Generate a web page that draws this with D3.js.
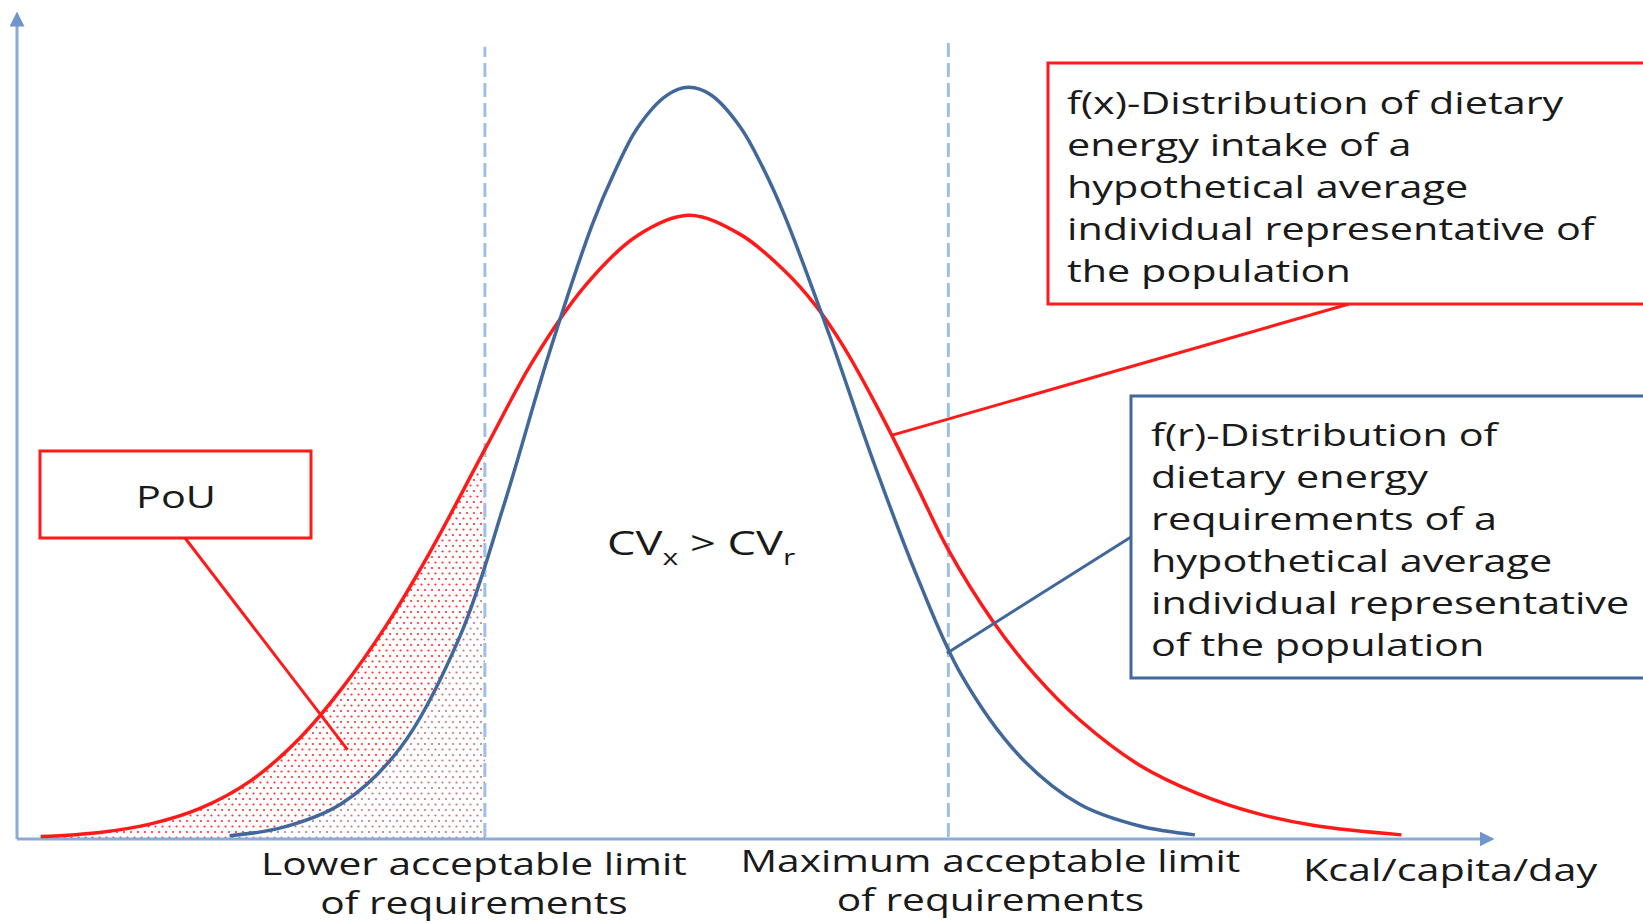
<!DOCTYPE html>
<html>
<head>
<meta charset="utf-8">
<script src="https://cdn.jsdelivr.net/npm/d3@7"></script>
<style>
  body { margin: 0; background: #fff; }
  svg text { font-family: 'Open Sans', 'Noto Sans', sans-serif; fill: #1a1a1a; }
</style>
</head>
<body>
<svg width="1643" height="923"></svg>
<script>
// curve values (x: 0-100 along the axis, y: 0-100 up the axis)
const blueX = [14.4, 18, 22, 26, 30, 33, 36, 39, 40.5, 42, 44, 45.5, 47, 49, 50.5, 52, 55, 58, 61, 64, 68, 72, 76, 79.8];
const blueY = [0.4, 1.4, 4.3, 11.1, 24.5, 40.5, 58.5, 74.5, 80.8, 86.0, 90.0, 91.0, 90.1, 86.2, 81.4, 75.5, 61.2, 45.8, 31.7, 19.8, 9.9, 4.2, 1.6, 0.5];
const redX = [1.6, 5.6, 9.0, 12.4, 15.8, 19.2, 22, 25, 28, 31.8, 35, 38.5, 42, 45.5, 49, 52, 54.1, 56, 58.6, 61, 63.1, 66.1, 69, 72, 76, 80, 84, 88, 93.8];
const redY = [0.3, 0.8, 1.8, 3.7, 7.0, 12.3, 18.2, 25.8, 34.8, 47.5, 58.0, 67.0, 73.0, 75.5, 73.2, 68.8, 64.6, 59.6, 51.2, 42.6, 35.0, 26.4, 19.8, 14.4, 9.0, 5.5, 3.1, 1.6, 0.5];

const limitX = [31.7, 63.1];
const limitTop = [95.9, 96.5];
const limitLabels = [['Lower acceptable limit', 'of requirements'], ['Maximum acceptable limit', 'of requirements']];
const axisLabel = 'Kcal/capita/day';

const redBoxLines = ['f(x)-Distribution of dietary', 'energy intake of a', 'hypothetical average',
  'individual representative of', 'the population'];
const blueBoxLines = ['f(r)-Distribution of', 'dietary energy', 'requirements of a',
  'hypothetical average', 'individual representative', 'of the population'];
const pouLabel = 'PoU';
// callout targets in data units
const pouTarget = [22.4, 10.8];
const redTarget = [59.3, 48.9];
const blueTarget = [63.0, 22.5];

const svg = d3.select('svg');
const width = +svg.attr('width');
const height = +svg.attr('height');

const RED = '#ff1a1a';
const BLUE = '#41679b';
const AXIS = '#8aabd8';
const DASH = '#9fbfe4';

const xScale = d3.scaleLinear().domain([0, 100]).range([17, 1493]);
const yScale = d3.scaleLinear().domain([0, 100]).range([839, 13]);

const blue = blueX.map((x, i) => ({ x, y: blueY[i] }));
const red = redX.map((x, i) => ({ x, y: redY[i] }));

const defs = svg.append('defs');

// dot patterns for the PoU area
const dots = (id, color) => {
  const p = defs.append('pattern')
    .attr('id', id)
    .attr('patternUnits', 'userSpaceOnUse')
    .attr('width', 7).attr('height', 11);
  p.append('circle').attr('cx', 1.5).attr('cy', 1.5).attr('r', 1.1).attr('fill', color);
  p.append('circle').attr('cx', 5).attr('cy', 7).attr('r', 1.1).attr('fill', color);
};
dots('redDots', '#ff3030');
dots('mixDots', '#c07a80');

defs.append('clipPath').attr('id', 'leftOfLimit')
  .append('rect')
  .attr('x', 0).attr('y', 0)
  .attr('width', xScale(limitX[0])).attr('height', height);

defs.append('marker')
  .attr('id', 'axisArrow')
  .attr('viewBox', '0 0 10 10')
  .attr('refX', 5).attr('refY', 5)
  .attr('markerWidth', 5).attr('markerHeight', 5)
  .attr('orient', 'auto')
  .append('path').attr('d', 'M0,0 L10,5 L0,10 Z').attr('fill', '#6f96cc');

const smooth = d3.curveCatmullRom.alpha(0.5);

const area = d3.area()
  .x(d => xScale(d.x))
  .y0(yScale(0))
  .y1(d => yScale(d.y))
  .curve(smooth);

const line = d3.line()
  .x(d => xScale(d.x))
  .y(d => yScale(d.y))
  .curve(smooth);

const shade = svg.append('g').attr('clip-path', 'url(#leftOfLimit)');
shade.append('path').datum(red).attr('d', area).attr('fill', 'url(#redDots)');
shade.append('path').datum(blue).attr('d', area).attr('fill', '#fff');
shade.append('path').datum(blue).attr('d', area).attr('fill', 'url(#mixDots)');

// axes
svg.append('line')
  .attr('x1', xScale(0)).attr('y1', yScale(0))
  .attr('x2', xScale(0)).attr('y2', yScale(100) + 6)
  .attr('stroke', AXIS).attr('stroke-width', 3)
  .attr('marker-end', 'url(#axisArrow)');
svg.append('line')
  .attr('x1', xScale(0)).attr('y1', yScale(0))
  .attr('x2', xScale(100) - 6).attr('y2', yScale(0))
  .attr('stroke', AXIS).attr('stroke-width', 3)
  .attr('marker-end', 'url(#axisArrow)');

// dashed limits
svg.selectAll('.limit').data(limitX).enter().append('line')
  .attr('class', 'limit')
  .attr('x1', d => xScale(d)).attr('x2', d => xScale(d))
  .attr('y1', yScale(0) - 2).attr('y2', (d, i) => yScale(limitTop[i]))
  .attr('stroke', DASH).attr('stroke-width', 3)
  .attr('stroke-dasharray', '14,6');

svg.append('path').datum(red).attr('d', line)
  .attr('fill', 'none').attr('stroke', RED).attr('stroke-width', 3.5);
svg.append('path').datum(blue).attr('d', line)
  .attr('fill', 'none').attr('stroke', BLUE).attr('stroke-width', 3.5);

// text is a bit wide in the original, so stretch it horizontally
const fontSize = 31;
const stretch = 1.335;
const label = (x, y, t, anchor, size) => svg.append('text')
  .attr('transform', `translate(${x},${y}) scale(${stretch},1)`)
  .attr('text-anchor', anchor || 'start')
  .style('font-size', (size || fontSize) + 'px')
  .text(t);

// callout boxes
svg.append('line')
  .attr('x1', 185).attr('y1', 538)
  .attr('x2', xScale(pouTarget[0])).attr('y2', yScale(pouTarget[1]))
  .attr('stroke', RED).attr('stroke-width', 3);
svg.append('rect')
  .attr('x', 40).attr('y', 451).attr('width', 271).attr('height', 87)
  .attr('fill', '#fff').attr('stroke', RED).attr('stroke-width', 3);
label(176, 508, pouLabel, 'middle');

svg.append('line')
  .attr('x1', 1349).attr('y1', 304)
  .attr('x2', xScale(redTarget[0])).attr('y2', yScale(redTarget[1]))
  .attr('stroke', RED).attr('stroke-width', 3);
svg.append('rect')
  .attr('x', 1048).attr('y', 63).attr('width', 620).attr('height', 241)
  .attr('fill', '#fff').attr('stroke', RED).attr('stroke-width', 3);
redBoxLines.forEach((t, i) => label(1067, 114 + i * 42, t));

svg.append('line')
  .attr('x1', 1131).attr('y1', 537)
  .attr('x2', xScale(blueTarget[0])).attr('y2', yScale(blueTarget[1]))
  .attr('stroke', BLUE).attr('stroke-width', 3);
svg.append('rect')
  .attr('x', 1131).attr('y', 396).attr('width', 540).attr('height', 282)
  .attr('fill', '#fff').attr('stroke', BLUE).attr('stroke-width', 3);
blueBoxLines.forEach((t, i) => label(1151, 446 + i * 42, t));

// CVx > CVr
const cv = svg.append('text')
  .attr('transform', `translate(607,555) scale(1.37,1)`)
  .style('font-size', '33px');
cv.append('tspan').text('CV');
cv.append('tspan').attr('dy', 10).style('font-size', '22px').text('x');
cv.append('tspan').attr('dy', -10).text(' > CV');
cv.append('tspan').attr('dy', 10).style('font-size', '22px').text('r');

// bottom labels
limitLabels.forEach((lines, i) => {
  const cx = xScale(limitX[i]) + (i === 0 ? -11 : 42);
  lines.forEach((t, j) => label(cx, (i === 0 ? 875 : 872) + j * 39, t, 'middle', 30.5));
});
label(1450, 881, axisLabel, 'middle');
</script>
</body>
</html>
